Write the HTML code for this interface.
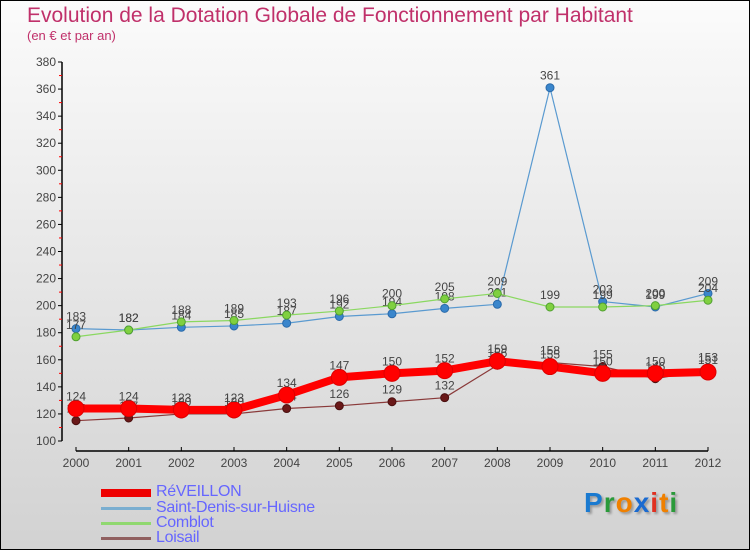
<!DOCTYPE html>
<html><head><meta charset="utf-8">
<style>
html,body{margin:0;padding:0}
body{width:750px;height:550px;overflow:hidden;font-family:"Liberation Sans",sans-serif}
#wrap{position:relative;width:748px;height:548px;border:1px solid #000;background:linear-gradient(#fbfbfb,#d2d2d2)}
.t{position:absolute;color:#c0306a;white-space:nowrap}
.lg{position:absolute;left:155px;color:#6666ff;font-size:16px;white-space:nowrap;letter-spacing:-0.3px}
.ll{position:absolute;left:100px;width:50px}
</style></head><body>
<div id="wrap">
<div class="t" style="left:26px;top:3px;font-size:21px">Evolution de la Dotation Globale de Fonctionnement par Habitant</div>
<div class="t" style="left:26px;top:27px;font-size:13px">(en € et par an)</div>
<svg id="svg" width="750" height="480" style="position:absolute;left:0;top:0"></svg>
<div class="ll" style="top:488px;height:8px;background:#e00"></div>
<div class="ll" style="top:506px;height:3px;background:#7aaed0"></div>
<div class="ll" style="top:521px;height:3px;background:#90d870"></div>
<div class="ll" style="top:536px;height:3px;background:#906060"></div>
<div class="lg" style="top:482px">RéVEILLON</div>
<div class="lg" style="top:498px">Saint-Denis-sur-Huisne</div>
<div class="lg" style="top:513px">Comblot</div>
<div class="lg" style="top:528px">Loisail</div>
<div style="position:absolute;left:583px;top:486px;font-size:28px;font-weight:bold;letter-spacing:1px;text-shadow:2px 2px 2px #999"><span style="color:#1a7ad0">P</span><span style="color:#2a9a3a">r</span><span style="color:#f08000">o</span><span style="color:#1a6ad0">x</span><span style="color:#e03020">i</span><span style="color:#f08000">t</span><span style="color:#2a9a3a">i</span></div>
</div>
<script>
const years=[2000,2001,2002,2003,2004,2005,2006,2007,2008,2009,2010,2011,2012];
const reveillon=[124,124,123,123,134,147,150,152,159,155,150,150,151];
const saintDenis=[183,182,184,185,187,192,194,198,201,361,203,199,209];
const comblot=[177,182,188,189,193,196,200,205,209,199,199,200,204];
const loisail=[115,117,120,120,124,126,129,132,156,158,155,146,153];
const yTicks=[100,120,140,160,180,200,220,240,260,280,300,320,340,360,380];
const NS="http://www.w3.org/2000/svg";
const svg=document.getElementById('svg');
const X=i=>75+i*(632/12);
const Y=v=>440-(v-100)*(379/280);
function mk(tag,attrs,parent){const e=document.createElementNS(NS,tag);for(const k in attrs)e.setAttribute(k,attrs[k]);(parent||svg).appendChild(e);return e;}
let ax=mk('line',{x1:61,y1:61,x2:61,y2:440,stroke:'#000','stroke-width':1.5});


yTicks.forEach(v=>{
  mk('line',{x1:57,y1:Y(v),x2:61,y2:Y(v),stroke:'#000'});
  if(v<380) mk('line',{x1:58,y1:Y(v+10),x2:61,y2:Y(v+10),stroke:'#f00'});
  const t=mk('text',{x:55,y:Y(v)+4,'text-anchor':'end','font-size':12,fill:'#444','font-family':'Liberation Sans'});
  t.textContent=v;
  
  
});
let xa=mk('line',{x1:75,y1:450,x2:707,y2:450,stroke:'#000','stroke-width':1.5});


years.forEach((y,i)=>{
  mk('line',{x1:X(i),y1:446,x2:X(i),y2:450,stroke:'#000'});
  const t=mk('text',{x:X(i),y:466,'text-anchor':'middle','font-size':12,fill:'#444','font-family':'Liberation Sans'});
  t.textContent=y;
  
  
});
function series(name,data,color,lw,r,dot,dotStroke){
  const g=mk('g',{});
  
  
  mk('polyline',{points:data.map((v,i)=>X(i)+','+Y(v)).join(' '),fill:'none',stroke:color,'stroke-width':lw,'stroke-linejoin':'round'},g);
  data.forEach((v,i)=>{
    const c=mk('circle',{cx:X(i),cy:Y(v),r:r,fill:dot,stroke:dotStroke,'stroke-width':1},g);
    
    
    const t=mk('text',{x:X(i),y:Y(v)-8,'text-anchor':'middle','font-size':12,fill:'#444','font-family':'Liberation Sans'},g);
    t.textContent=v;
    
    
  });
}
series('loisail',loisail,'#8a3a3a',1.2,4,'#6a1818','#4a1010');
series('reveillon',reveillon,'#f00',8,8,'#f00','#d00');
series('saint-denis',saintDenis,'#5a9ad0',1.2,4,'#3a86cc','#2a6aaa');
series('comblot',comblot,'#8ad860',1.2,4,'#80d040','#50a030');
</script>
</body></html>
